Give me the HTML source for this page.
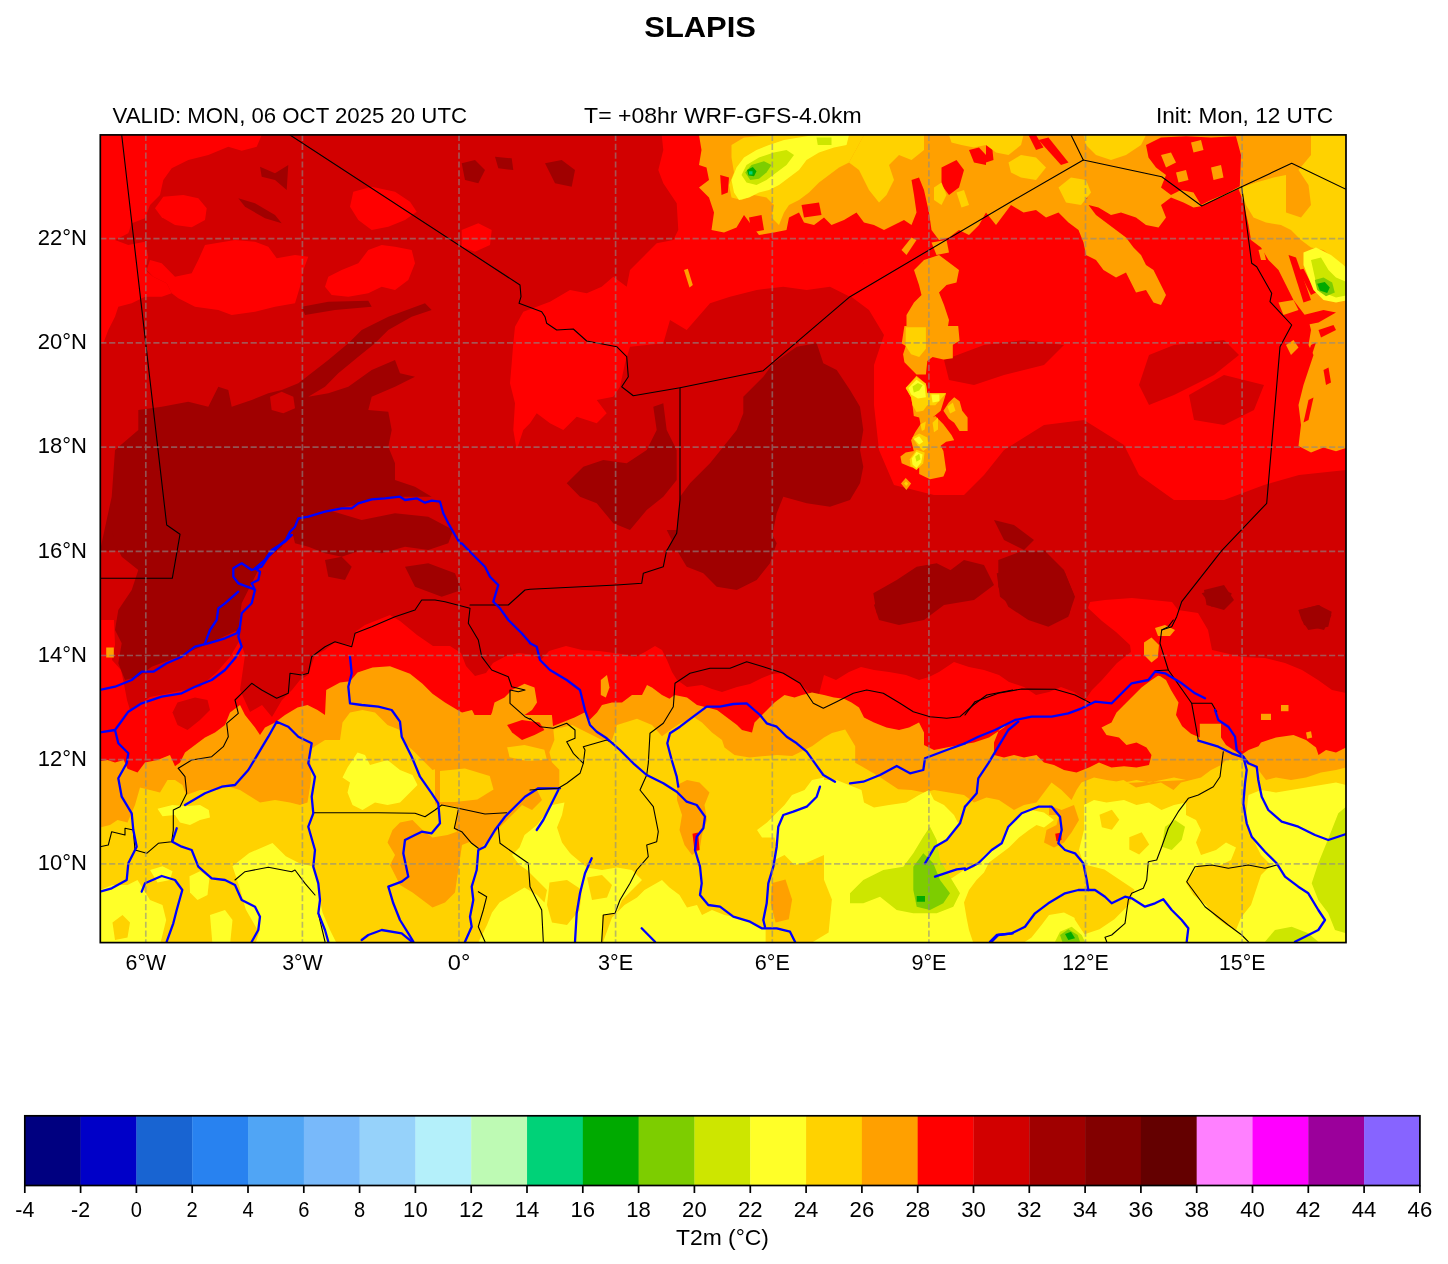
<!DOCTYPE html>
<html><head><meta charset="utf-8"><title>SLAPIS</title>
<style>html,body{margin:0;padding:0;background:#fff}body{width:1448px;height:1264px;overflow:hidden;font-family:"Liberation Sans",sans-serif}svg{display:block;will-change:transform}text{font-family:"Liberation Sans",sans-serif;fill:#000}</style>
</head><body>
<svg width="1448" height="1264" viewBox="0 0 1448 1264">
<rect x="0" y="0" width="1448" height="1264" fill="#fff"/>
<defs><clipPath id="mc"><rect x="100.3" y="134.9" width="1245.7" height="807.7"/></clipPath></defs>
<g clip-path="url(#mc)">
<rect x="100.3" y="134.9" width="1245.7" height="807.7" fill="#d20000"/>
<polygon fill="#ff0000" points="100.0,135.0 261.7,135.0 256.7,146.7 241.7,150.7 228.3,146.7 208.3,155.0 188.3,160.0 171.7,168.3 163.3,180.0 160.0,195.0 150.0,205.0 145.0,218.3 131.7,223.3 128.3,233.3 115.0,240.0 128.3,245.0 145.0,241.7 148.3,256.7 145.0,270.0 153.3,276.7 166.7,283.3 171.7,293.3 161.7,296.7 145.0,296.7 131.7,303.3 118.3,306.7 115.0,316.7 108.3,330.0 103.3,343.3 100.0,343.3"/>
<polygon fill="#ff0000" points="205.0,245.0 235.0,240.0 255.0,241.7 268.3,246.7 276.7,258.3 295.0,255.0 308.3,256.7 303.3,270.0 300.0,286.7 295.0,303.3 275.0,306.7 255.0,311.7 231.7,315.0 218.3,310.0 195.0,306.7 178.3,298.3 171.7,293.3 166.7,283.3 153.3,276.7 146.7,270.0 150.0,260.0 161.7,263.3 175.0,276.7 191.7,273.3 198.3,260.0"/>
<polygon fill="#ff0000" points="163.3,196.7 183.3,195.0 198.3,198.3 206.7,208.3 205.0,220.0 191.7,227.3 175.0,225.0 161.7,217.3 155.0,208.3"/>
<polygon fill="#ff0000" points="353.3,191.7 371.7,186.7 395.0,191.7 410.0,201.7 416.7,211.7 405.0,220.0 388.3,226.7 371.7,230.0 358.3,220.0 350.0,206.7"/>
<polygon fill="#ff0000" points="328.3,276.7 341.7,270.0 358.3,263.3 368.3,250.0 381.7,245.0 395.0,246.7 411.7,250.0 415.0,263.3 408.3,280.0 395.0,290.0 381.7,286.7 368.3,293.3 348.3,296.7 331.7,295.0 325.0,286.7"/>
<polygon fill="#ff0000" points="461.7,230.0 478.3,223.3 491.7,230.0 490.0,245.0 475.0,251.7 461.7,246.7"/>
<polygon fill="#ff0000" points="515.0,326.7 523.3,311.7 550.0,301.7 570.0,290.0 586.7,293.3 601.7,286.7 613.3,276.7 626.7,286.7 630.0,270.0 640.0,260.0 656.7,243.3 673.3,240.0 678.3,230.0 676.7,203.3 663.3,183.3 658.3,170.0 663.3,150.0 661.7,135.0 1012.7,135.0 1012.7,263.3 863.3,263.3 856.7,290.0 850.0,296.7 830.0,286.7 806.7,290.0 783.3,286.7 756.7,290.0 730.0,296.7 710.0,303.3 686.7,330.0 670.0,320.0 663.3,343.3 630.0,346.7 625.0,363.3 620.0,386.7 613.3,396.7 596.7,400.0 606.7,413.3 596.7,423.3 576.7,416.7 563.3,430.0 550.0,423.3 536.7,413.3 530.0,423.3 523.3,430.0 516.7,450.0 513.3,430.0 515.0,403.3 510.0,383.3 511.7,363.3 513.3,343.3"/>
<polygon fill="#ff0000" points="914.0,135.0 1346.5,135.0 1346.5,470.0 1299.0,475.0 1264.0,485.0 1224.0,500.0 1174.0,500.0 1139.0,475.0 1124.0,445.0 1084.0,420.0 1044.0,425.0 1004.0,450.0 984.0,475.0 964.0,495.0 934.0,495.0 894.0,485.0 879.0,450.0 874.0,405.0 874.0,365.0 884.0,335.0 869.0,310.0 849.0,295.0 854.0,275.0 874.0,250.0 899.0,240.0 914.0,240.0"/>
<polygon fill="#ff0000" points="100.0,620.0 114.0,620.0 115.0,645.0 112.0,660.0 121.0,670.0 124.0,684.0 127.0,700.0 130.0,710.0 150.0,697.0 175.0,692.0 200.0,687.0 217.0,672.0 230.0,657.0 240.0,640.0 245.0,655.0 240.0,690.0 250.0,712.0 262.0,705.0 272.0,717.0 282.0,700.0 292.0,690.0 300.0,680.0 308.0,675.0 315.0,655.0 325.0,650.0 335.0,642.0 350.0,645.0 355.0,632.0 365.0,625.0 390.0,615.0 400.0,621.0 417.0,635.0 433.0,646.0 450.0,646.0 461.0,653.0 466.0,666.0 475.0,676.0 486.0,673.0 493.0,663.0 506.0,656.0 519.0,653.0 533.0,655.0 541.0,660.0 549.0,651.0 566.0,646.0 582.0,650.0 599.0,651.0 622.0,654.0 635.0,657.0 645.0,652.0 655.0,646.0 662.0,650.0 667.0,660.0 672.0,672.0 677.0,680.0 687.0,687.0 702.0,685.0 712.0,689.0 722.0,692.0 737.0,687.0 750.0,684.0 762.0,678.0 772.0,674.0 782.0,673.0 797.0,681.0 809.0,692.0 817.0,702.0 824.0,675.0 836.0,680.0 849.0,672.0 861.0,667.0 874.0,670.0 889.0,672.0 906.0,675.0 919.0,680.0 929.0,677.0 939.0,672.0 954.0,662.0 969.0,667.0 984.0,670.0 999.0,675.0 1009.0,682.0 1024.0,687.0 1036.0,695.0 1049.0,692.0 1061.0,687.0 1074.0,692.0 1085.0,700.0 1092.0,690.0 1102.0,680.0 1117.0,663.0 1131.0,652.0 1130.0,645.0 1116.0,632.0 1102.0,621.0 1088.0,608.0 1090.0,602.0 1105.0,600.0 1132.0,598.0 1152.0,600.0 1172.0,602.0 1178.0,610.0 1198.0,613.0 1208.0,630.0 1212.0,650.0 1225.0,653.0 1242.0,657.0 1265.0,658.0 1285.0,663.0 1302.0,670.0 1318.0,680.0 1332.0,690.0 1346.0,693.0 1346.0,800.0 100.0,800.0"/>
<polygon fill="#d20000" points="177.5,702.5 195.0,697.5 207.5,700.0 210.0,710.0 200.0,720.0 187.5,730.0 177.5,725.0 172.5,712.5"/>
<polygon fill="#d20000" points="944.0,360.0 984.0,345.0 1024.0,340.0 1064.0,345.0 1044.0,365.0 1004.0,375.0 974.0,385.0 949.0,380.0"/>
<polygon fill="#d20000" points="1149.0,355.0 1174.0,345.0 1224.0,340.0 1239.0,355.0 1214.0,375.0 1174.0,395.0 1149.0,405.0 1139.0,385.0"/>
<polygon fill="#d20000" points="1189.0,395.0 1224.0,375.0 1264.0,385.0 1254.0,410.0 1224.0,425.0 1194.0,420.0"/>
<polygon fill="#a00000" points="138.3,410.0 161.7,406.7 188.3,401.7 208.3,406.7 218.3,386.7 228.3,390.0 231.7,406.7 251.7,400.0 268.3,393.3 281.7,390.0 298.3,383.3 328.3,360.0 348.3,343.3 361.7,330.0 388.3,316.7 425.0,303.3 431.7,310.0 411.7,316.7 388.3,330.0 375.0,343.3 358.3,356.7 338.3,373.3 325.0,386.7 308.3,396.7 328.3,393.3 348.3,386.7 371.7,370.0 395.0,360.0 400.0,373.3 415.0,376.7 395.0,386.7 371.7,396.7 368.3,410.0 388.3,411.7 391.7,430.0 388.3,446.7 395.0,463.3 395.0,480.0 415.0,486.7 431.7,496.7 401.7,496.7 378.3,498.3 355.0,505.0 328.3,510.0 301.7,516.7 295.0,530.0 281.7,543.3 261.7,550.7 100.0,550.7 111.7,496.7 115.0,450.0 138.3,430.0"/>
<polygon fill="#d20000" points="270.0,396.7 281.7,391.7 293.3,396.7 295.0,408.3 283.3,413.3 271.7,410.0"/>
<polygon fill="#a00000" points="291.7,530.0 281.7,546.7 261.7,563.3 251.7,583.3 241.7,603.3 238.3,630.0 205.0,645.0 178.3,656.7 151.7,666.7 138.3,676.7 125.0,680.0 118.3,663.3 121.7,643.3 115.0,630.0 118.3,610.0 131.7,590.0 138.3,570.0 121.7,556.7 115.0,543.3 111.7,530.0"/>
<polygon fill="#a00000" points="291.7,530.0 301.7,516.7 328.3,510.0 361.7,520.0 395.0,513.3 428.3,516.7 453.3,530.0 448.3,543.3 428.3,550.0 405.0,546.7 381.7,553.3 361.7,550.0 341.7,556.7 325.0,553.3 308.3,546.7 295.0,543.3"/>
<polygon fill="#a00000" points="325.0,560.0 341.7,556.7 351.7,566.7 345.0,580.0 328.3,576.7"/>
<polygon fill="#a00000" points="405.0,566.7 428.3,563.3 455.0,573.3 461.7,590.0 441.7,596.7 415.0,586.7"/>
<polygon fill="#a00000" points="260.0,166.7 275.0,173.3 288.3,165.0 286.7,190.0 275.0,180.0 261.7,176.7"/>
<polygon fill="#a00000" points="238.3,198.3 255.0,203.3 275.0,215.0 281.7,223.3 265.0,218.3 245.0,206.7"/>
<polygon fill="#a00000" points="301.7,306.7 328.3,301.7 368.3,300.7 371.7,306.7 335.0,310.0 305.0,315.0"/>
<polygon fill="#a00000" points="461.7,163.3 475.0,160.0 485.0,170.0 478.3,183.3 465.0,180.0"/>
<polygon fill="#a00000" points="545.0,163.3 561.7,160.0 575.0,170.0 571.7,186.7 555.0,183.3"/>
<polygon fill="#a00000" points="495.0,156.7 511.7,158.3 513.3,170.0 498.3,168.3"/>
<polygon fill="#a00000" points="743.3,396.7 763.3,376.7 773.3,363.3 796.7,346.7 816.7,343.3 823.3,363.3 836.7,370.0 850.0,390.0 860.0,406.7 863.3,430.0 860.0,450.0 863.3,466.7 860.0,483.3 850.0,500.0 830.0,506.7 806.7,503.3 783.3,496.7 776.7,513.3 773.3,530.0 770.0,550.7 666.7,550.7 676.7,530.0 680.0,496.7 690.0,483.3 710.0,463.3 723.3,446.7 736.7,430.0 743.3,413.3"/>
<polygon fill="#a00000" points="666.7,530.0 770.0,530.0 776.7,543.3 770.0,563.3 756.7,580.0 736.7,590.0 716.7,586.7 703.3,573.3 686.7,566.7 676.7,550.0"/>
<polygon fill="#a00000" points="566.7,483.3 583.3,466.7 603.3,460.0 626.7,463.3 646.7,450.0 656.7,430.0 653.3,406.7 663.3,403.3 666.7,430.0 676.7,450.0 676.7,480.0 663.3,496.7 646.7,510.0 630.0,530.0 613.3,523.3 596.7,503.3 580.0,496.7"/>
<polygon fill="#a00000" points="874.0,605.0 894.0,585.0 924.0,570.0 944.0,575.0 964.0,560.0 984.0,565.0 994.0,585.0 974.0,600.0 944.0,605.0 924.0,620.0 899.0,625.0 879.0,620.0"/>
<polygon fill="#a00000" points="999.0,575.0 1019.0,555.0 1044.0,550.0 1064.0,570.0 1074.0,595.0 1069.0,615.0 1044.0,620.0 1019.0,610.0 1004.0,595.0"/>
<polygon fill="#a00000" points="994.0,520.0 1014.0,525.0 1034.0,540.0 1024.0,550.0 1004.0,540.0"/>
<polygon fill="#a00000" points="1204.0,590.0 1224.0,585.0 1234.0,600.0 1224.0,610.0 1206.5,605.0"/>
<polygon fill="#a00000" points="1299.0,610.0 1319.0,605.0 1331.5,615.0 1324.0,630.0 1304.0,625.0"/>
<polygon fill="#a00000" points="1201.7,593.3 1218.3,588.3 1231.7,593.3 1228.3,603.3 1211.7,606.7"/>
<polygon fill="#a00000" points="1298.3,610.0 1318.3,605.0 1331.7,611.7 1328.3,626.7 1308.3,630.0 1301.7,620.0"/>
<polygon fill="#a00000" points="998.3,560.0 1025.0,550.0 1048.3,556.7 1065.0,573.3 1075.0,596.7 1068.3,616.7 1048.3,626.7 1028.3,620.0 1008.3,606.7 998.3,586.7"/>
<polygon fill="#a00000" points="873.3,593.3 896.7,580.0 916.7,566.7 936.7,563.3 956.7,573.3 950.0,586.7 930.0,593.3 910.0,600.0 893.3,613.3 876.7,613.3"/>
<polygon fill="#a00000" points="996.7,573.3 1012.7,570.0 1012.7,606.7 1000.0,596.7"/>
<polygon fill="#ffa000" points="100.0,761.2 107.5,760.0 115.0,762.5 123.8,760.0 127.5,768.8 137.5,772.5 145.0,762.5 157.5,760.0 170.0,755.0 175.0,766.2 180.0,762.5 185.0,752.5 195.0,745.0 205.0,737.5 215.0,732.5 225.0,725.0 230.0,712.5 240.0,705.0 245.0,715.0 255.0,727.5 260.0,735.0 265.0,727.5 275.0,722.5 285.0,715.0 297.5,707.5 307.5,705.0 317.5,710.0 325.0,715.0 326.2,690.0 340.0,682.5 350.0,681.2 357.5,672.5 372.5,667.5 390.0,666.2 410.0,673.8 422.5,683.8 432.5,693.8 445.0,702.5 457.5,710.0 462.0,712.5 462.0,712.5 472.0,710.0 475.8,717.5 487.0,723.8 492.0,712.5 494.5,702.5 504.5,697.5 512.0,690.0 524.5,683.8 534.5,687.5 537.0,702.5 532.0,710.0 524.5,715.0 512.0,720.0 504.5,727.5 512.0,732.5 522.0,740.0 537.0,735.0 544.5,730.0 549.5,727.5 562.0,722.5 574.5,717.5 584.5,712.5 589.5,720.0 597.0,712.5 602.0,705.0 612.0,702.5 622.0,702.5 632.0,695.0 642.0,695.0 647.0,685.0 652.0,687.5 662.0,695.0 669.5,698.8 674.5,695.0 687.0,697.5 697.0,705.0 707.0,707.5 717.0,710.0 727.0,717.5 737.0,725.0 742.0,730.0 752.0,732.5 754.5,722.5 764.5,712.5 774.5,702.5 784.5,695.0 794.5,697.5 802.0,695.0 812.0,692.5 824.0,695.0 824.0,695.0 834.0,697.5 844.0,698.8 851.5,702.5 859.0,707.5 864.0,717.5 874.0,722.5 886.5,727.5 899.0,730.0 909.0,727.5 919.0,722.5 924.0,732.5 924.0,745.0 934.0,750.0 946.5,747.5 959.0,745.0 974.0,742.5 989.0,737.5 996.5,732.5 1004.0,727.5 1009.0,722.5 999.0,730.0 994.0,742.5 994.0,755.0 1004.0,757.5 1014.0,755.0 1024.0,757.5 1036.5,755.0 1044.0,762.5 1054.0,765.0 1064.0,770.0 1076.5,772.5 1089.0,767.5 1099.0,762.5 1111.5,767.5 1124.0,766.2 1136.5,767.5 1149.0,765.0 1151.5,755.0 1146.5,747.5 1136.5,742.5 1126.5,745.0 1119.0,737.5 1106.5,735.0 1101.5,727.5 1111.5,722.5 1116.5,712.5 1124.0,705.0 1131.5,697.5 1141.5,687.5 1151.5,680.0 1159.0,675.0 1158.5,675.0 1166.0,680.0 1171.0,690.0 1178.5,702.5 1176.0,715.0 1182.2,726.2 1191.0,733.8 1199.8,737.5 1199.8,723.8 1221.0,723.8 1221.0,737.5 1226.0,745.0 1233.5,750.0 1241.0,755.0 1248.5,750.0 1258.5,746.2 1261.0,742.5 1276.0,737.5 1293.5,735.0 1306.0,740.0 1316.0,747.5 1318.5,755.0 1326.0,750.0 1336.0,752.5 1346.0,747.5 1346.0,945.0 100.0,945.0"/>
<polygon fill="#ffa000" points="600.8,680.0 607.0,675.0 609.5,687.5 605.8,697.5 600.8,695.0"/>
<polygon fill="#ffa000" points="1144.0,642.5 1151.5,637.5 1159.0,645.0 1157.8,657.5 1151.5,662.5 1144.0,655.0"/>
<polygon fill="#ffa000" points="1155.0,628.0 1165.0,625.0 1175.0,630.0 1170.0,636.0 1158.0,636.0"/>
<polygon fill="#ffa000" points="1261.0,713.8 1271.0,713.8 1271.0,720.0 1261.0,720.0"/>
<polygon fill="#ffa000" points="1281.0,705.0 1288.5,705.0 1288.5,711.2 1281.0,711.2"/>
<polygon fill="#ffa000" points="1306.0,732.5 1311.0,731.2 1312.2,737.5 1307.2,738.8"/>
<polygon fill="#ffa000" points="106.2,647.5 113.8,647.5 113.8,657.5 106.2,657.5"/>
<polygon fill="#ffd200" points="100.0,827.5 110.0,825.0 117.5,820.0 127.5,822.5 135.0,805.0 140.0,787.5 150.0,790.0 160.0,792.5 167.5,780.0 175.0,780.0 182.5,785.0 186.2,795.0 200.0,790.0 210.0,790.0 217.5,790.0 227.5,786.2 240.0,790.0 250.0,796.2 260.0,802.5 275.0,800.0 290.0,802.5 300.0,805.0 307.5,802.5 311.2,780.0 310.0,750.0 315.0,746.2 325.0,740.0 340.0,740.0 342.5,722.5 350.0,712.5 362.5,710.0 375.0,712.5 387.5,725.0 400.0,730.0 403.8,742.5 412.5,750.0 422.5,760.0 432.5,770.0 445.0,766.2 462.0,762.5 462.0,790.0 462.0,760.0 477.0,755.0 492.0,760.0 499.5,750.0 512.0,745.0 527.0,742.5 544.5,740.0 549.5,730.0 562.0,727.5 572.0,725.0 582.0,730.0 592.0,735.0 602.0,740.0 612.0,740.0 617.0,725.0 637.0,718.8 652.0,725.0 662.0,736.2 672.0,728.8 679.5,723.8 694.5,717.5 702.0,722.5 712.0,732.5 722.0,740.0 724.5,747.5 734.5,755.0 749.5,757.5 762.0,756.2 777.0,755.0 792.2,756.0 812.0,746.2 824.0,737.5 824.0,737.5 832.0,733.0 845.2,729.5 855.2,746.2 855.2,762.8 861.5,766.2 878.2,776.0 898.2,789.2 911.5,790.0 924.0,792.5 934.0,790.0 949.0,792.5 964.0,795.0 974.0,802.5 986.5,797.5 999.0,800.0 1014.0,810.0 1024.0,805.0 1036.5,802.5 1044.0,792.5 1051.5,782.5 1061.5,790.0 1071.5,800.0 1076.5,790.0 1081.5,782.5 1094.0,777.5 1106.5,780.0 1124.0,782.5 1136.5,780.0 1149.0,782.5 1161.5,780.0 1174.0,777.5 1186.0,780.0 1086.0,785.0 1098.5,780.0 1111.0,782.5 1123.5,780.0 1136.0,787.5 1148.5,785.0 1161.0,782.5 1173.5,790.0 1181.0,782.5 1191.0,780.0 1201.0,777.5 1211.0,770.0 1221.0,765.0 1226.0,760.0 1241.0,760.0 1248.5,765.0 1258.5,770.0 1266.0,780.0 1276.0,777.5 1291.0,780.0 1306.0,777.5 1321.0,772.5 1336.0,770.0 1346.0,767.5 1346.0,945.0 100.0,945.0"/>
<polygon fill="#ffa000" points="392.5,830.0 400.0,822.5 412.5,820.0 422.5,830.0 432.5,837.5 447.5,835.0 462.0,830.0 462.0,792.5 477.0,790.0 494.5,785.0 512.0,780.0 527.0,775.0 544.5,772.5 549.5,782.5 537.0,790.0 542.0,800.0 532.0,810.0 522.0,805.0 512.0,815.0 504.5,822.5 497.0,830.0 492.0,837.5 482.0,845.0 474.5,840.0 462.0,845.0 455.0,892.5 445.0,902.5 432.5,907.5 422.5,900.0 412.5,892.5 400.0,885.0 395.0,875.0 390.0,865.0 395.0,855.0 387.5,842.5"/>
<polygon fill="#ffa000" points="677.0,785.0 687.0,780.0 699.5,782.5 709.5,792.5 704.5,805.0 707.0,820.0 702.0,835.0 699.5,850.0 692.0,855.0 684.5,845.0 679.5,830.0 682.0,815.0 677.0,800.0"/>
<polygon fill="#ff0000" points="692.5,833.8 698.2,832.5 699.5,850.0 694.5,851.2"/>
<polygon fill="#ffa000" points="772.0,882.5 782.0,880.0 789.5,892.5 794.5,905.0 789.5,922.5 777.0,925.0 772.0,910.0 769.5,895.0"/>
<polygon fill="#ffa000" points="647.0,897.5 659.5,902.5 662.0,917.5 652.0,920.0 645.8,910.0"/>
<polygon fill="#ffa000" points="1049.0,805.0 1061.5,810.0 1074.0,805.0 1079.0,820.0 1071.5,832.5 1064.0,842.5 1054.0,847.5 1044.0,842.5 1046.5,830.0 1056.5,825.0 1059.0,815.0 1049.0,815.0"/>
<polygon fill="#ff0000" points="1055.2,833.8 1061.5,832.5 1061.5,840.0 1056.5,841.2"/>
<polygon fill="#ffff28" points="157.5,808.8 172.5,805.0 185.0,806.2 200.0,805.0 208.8,810.0 210.0,817.5 200.0,820.0 190.0,825.0 180.0,822.5 175.0,815.0 162.5,816.2"/>
<polygon fill="#ffff28" points="357.5,752.5 365.0,755.0 370.0,765.0 387.5,760.0 400.0,770.0 412.5,775.0 417.5,785.0 407.5,795.0 400.0,802.5 387.5,805.0 375.0,802.5 362.5,810.0 352.5,805.0 347.5,792.5 350.0,782.5 342.5,777.5 347.5,767.5 352.5,760.0"/>
<polygon fill="#ffff28" points="100.0,890.0 112.5,885.0 127.5,885.0 137.5,880.0 143.8,890.0 150.0,900.0 162.5,905.0 166.2,920.0 160.0,945.0 100.0,945.0"/>
<polygon fill="#ffd200" points="112.5,922.5 122.5,915.0 130.0,922.5 127.5,937.5 115.0,940.0"/>
<polygon fill="#ffff28" points="232.5,866.2 249.2,853.0 272.5,843.0 285.8,856.2 299.0,863.0 312.2,866.2 317.5,880.0 318.8,895.0 322.5,912.5 330.0,930.0 337.5,945.0 255.0,945.0 259.0,932.5 245.8,909.5 239.2,886.2"/>
<polygon fill="#ffff28" points="189.5,876.2 200.0,871.2 209.5,877.5 207.5,895.0 197.5,900.0 190.0,892.5"/>
<polygon fill="#ffff28" points="210.0,915.0 225.0,910.0 232.5,920.0 230.0,945.0 212.5,945.0"/>
<polygon fill="#ffff28" points="150.0,870.0 162.5,866.2 172.5,871.2 170.0,880.0 157.5,882.5"/>
<polygon fill="#ffff28" points="524.5,835.0 537.0,825.0 544.5,815.0 552.0,805.0 564.5,802.5 562.0,815.0 557.0,827.5 562.0,842.5 569.5,852.5 572.0,855.0 587.0,867.5 602.0,870.0 617.0,867.5 632.0,870.0 642.0,880.0 632.0,890.0 622.0,900.0 617.0,912.5 602.0,915.0 602.0,945.0 477.0,945.0 487.0,925.0 492.0,912.5 499.5,902.5 512.0,895.0 524.5,887.5 537.0,895.0 544.5,902.5 547.0,890.0 537.0,880.0 527.0,870.0 519.5,865.0 512.0,855.0 519.5,847.5"/>
<polygon fill="#ffd200" points="549.5,882.5 567.0,880.0 582.0,890.0 579.5,910.0 567.0,925.0 552.0,922.5 547.0,905.0"/>
<polygon fill="#ffd200" points="587.0,877.5 602.0,875.0 612.0,885.0 607.0,897.5 592.0,900.0"/>
<polygon fill="#ffff28" points="824.0,777.5 812.0,780.0 804.5,790.0 792.0,795.0 784.5,805.0 774.5,815.0 767.0,822.5 757.0,830.0 762.0,837.5 774.5,837.5 777.0,847.5 774.5,860.0 784.5,855.0 794.5,865.0 807.0,862.5 824.0,855.0"/>
<polygon fill="#ffff28" points="624.5,905.0 637.0,897.5 644.5,890.0 662.0,880.0 669.5,887.5 679.5,895.0 687.0,907.5 697.0,905.0 702.0,915.0 712.0,910.0 724.5,915.0 737.0,917.5 749.5,922.5 762.0,927.5 769.5,930.0 774.5,927.5 794.5,925.0 799.5,912.5 797.0,900.0 807.0,892.5 824.0,890.0 824.0,945.0 602.0,945.0 612.0,917.5"/>
<polygon fill="#ffff28" points="824.0,780.0 836.5,780.0 849.0,785.0 861.5,790.0 864.0,802.5 874.0,807.5 889.0,805.0 906.5,802.5 919.0,795.0 929.0,790.0 934.0,800.0 944.0,805.0 954.0,815.0 959.0,825.0 949.0,837.5 941.5,842.5 931.5,850.0 924.0,857.5 914.0,862.5 929.0,870.0 939.0,877.5 949.0,880.0 964.0,870.0 974.0,867.5 984.0,855.0 994.0,847.5 1004.0,840.0 1009.0,827.5 1019.0,815.0 1031.5,810.0 1044.0,812.5 1054.0,820.0 1044.0,827.5 1036.5,825.0 1029.0,830.0 1019.0,837.5 1009.0,847.5 999.0,855.0 989.0,862.5 984.0,872.5 976.5,880.0 969.0,890.0 964.0,902.5 966.5,917.5 969.0,930.0 974.0,945.0 824.0,945.0"/>
<polygon fill="#ffff28" points="1084.0,805.0 1094.0,800.0 1106.5,802.5 1124.0,800.0 1136.5,805.0 1149.0,802.5 1161.5,810.0 1174.0,805.0 1186.0,802.5 1186.0,945.0 999.0,945.0 1024.0,942.5 1031.5,937.5 1041.5,925.0 1049.0,915.0 1064.0,912.5 1074.0,917.5 1086.5,925.0 1099.0,930.0 1106.5,912.5 1099.0,895.0 1089.0,880.0 1084.0,865.0 1079.0,850.0 1084.0,830.0"/>
<polygon fill="#ffff28" points="1086.0,808.8 1101.0,805.0 1116.0,806.2 1131.0,810.0 1146.0,815.0 1161.0,820.0 1173.5,812.5 1178.5,810.0 1186.0,815.0 1196.0,820.0 1201.0,830.0 1196.0,842.5 1201.0,855.0 1216.0,850.0 1226.0,842.5 1236.0,847.5 1231.0,860.0 1221.0,865.0 1198.5,865.0 1186.0,882.5 1193.5,895.0 1206.0,905.0 1216.0,917.5 1226.0,925.0 1236.0,930.0 1246.0,945.0 1086.0,945.0"/>
<polygon fill="#ffff28" points="1248.5,795.0 1261.0,790.0 1276.0,792.5 1291.0,790.0 1306.0,787.5 1321.0,785.0 1336.0,782.5 1346.0,785.0 1346.0,945.0 1246.0,945.0 1236.0,930.0 1241.0,917.5 1251.0,905.0 1256.0,890.0 1261.0,875.0 1271.0,865.0 1261.0,855.0 1256.0,845.0 1248.5,830.0 1246.0,815.0"/>
<polygon fill="#ffa000" points="699.0,135.0 701.5,150.0 699.0,165.0 706.5,167.5 709.0,180.0 699.0,187.5 709.0,197.5 714.0,212.5 711.5,230.0 724.0,232.5 736.5,227.5 744.0,215.0 751.5,225.0 759.0,235.0 774.0,232.5 786.5,230.0 789.0,217.5 799.0,212.5 804.0,222.5 814.0,225.0 824.0,217.5 831.5,225.0 844.0,220.0 856.5,212.5 864.0,222.5 874.0,225.0 884.0,230.0 894.0,225.0 904.0,220.0 911.5,225.0 916.5,212.5 914.0,195.0 911.5,180.0 919.0,177.5 924.0,190.0 929.0,212.5 931.5,230.0 939.0,240.0 949.0,237.5 959.0,230.0 969.0,235.0 979.0,225.0 986.0,212.5 996.0,225.0 1003.5,215.0 1011.0,205.0 1023.5,212.5 1036.0,210.0 1046.0,217.5 1058.5,212.5 1068.5,222.5 1078.5,230.0 1083.5,242.5 1086.0,255.0 1096.0,260.0 1103.5,270.0 1116.0,277.5 1126.0,272.5 1131.0,282.5 1136.0,292.5 1146.0,290.0 1153.5,302.5 1161.0,305.0 1166.0,295.0 1158.5,280.0 1153.5,270.0 1146.0,265.0 1141.0,255.0 1133.5,247.5 1126.0,237.5 1116.0,230.0 1106.0,222.5 1096.0,215.0 1088.5,205.0 1098.5,207.5 1111.0,215.0 1121.0,212.5 1136.0,217.5 1146.0,225.0 1158.5,227.5 1166.0,217.5 1161.0,205.0 1171.0,197.5 1183.5,202.5 1193.5,207.5 1201.0,206.2 1211.0,201.2 1226.0,195.0 1238.5,188.8 1243.5,202.5 1248.5,225.0 1251.0,240.0 1261.0,247.5 1268.5,260.0 1278.5,270.0 1286.0,285.0 1293.5,300.0 1301.0,310.0 1308.5,320.0 1311.0,330.0 1308.5,345.0 1313.5,355.0 1308.5,370.0 1303.5,385.0 1298.5,405.0 1301.0,425.0 1298.5,446.0 1311.0,452.5 1323.5,447.5 1336.0,451.2 1348.0,447.5 1348.0,135.0 699.0,135.0"/>
<polygon fill="#ffa000" points="1315.0,440.0 1331.7,446.7 1346.0,446.7 1346.0,396.7 1325.0,396.7"/>
<polygon fill="#ff0000" points="720.2,175.0 729.0,177.5 727.8,192.5 721.5,195.0"/>
<polygon fill="#ff0000" points="749.0,217.5 761.5,215.0 764.0,230.0 751.5,232.5"/>
<polygon fill="#ff0000" points="779.0,192.5 784.0,190.0 786.5,202.5 780.2,202.5"/>
<polygon fill="#ff0000" points="801.5,205.0 819.0,202.5 821.5,215.0 804.0,217.5"/>
<polygon fill="#ff0000" points="941.5,167.5 956.5,160.0 964.0,170.0 959.0,187.5 949.0,195.0 941.5,185.0"/>
<polygon fill="#ff0000" points="969.0,150.0 979.0,147.5 986.0,155.0 986.0,165.0 974.0,162.5"/>
<polygon fill="#ff0000" points="1146.0,145.0 1161.0,137.5 1186.0,136.2 1211.0,137.5 1236.0,136.2 1241.0,155.0 1239.8,186.2 1226.0,193.8 1211.0,200.0 1201.0,205.0 1193.5,192.5 1181.0,190.0 1171.0,195.0 1161.0,187.5 1166.0,175.0 1156.0,167.5 1148.5,157.5"/>
<polygon fill="#ffa000" points="1161.0,155.0 1171.0,152.5 1176.0,162.5 1166.0,167.5"/>
<polygon fill="#ffa000" points="1191.0,142.5 1201.0,140.0 1203.5,150.0 1193.5,152.5"/>
<polygon fill="#ffa000" points="1211.0,167.5 1221.0,165.0 1223.5,177.5 1213.5,180.0"/>
<polygon fill="#ffa000" points="1176.0,172.5 1186.0,170.0 1188.5,180.0 1178.5,182.5"/>
<polygon fill="#ff0000" points="1038.5,140.0 1048.5,137.5 1068.5,162.5 1061.0,165.0"/>
<polygon fill="#ff0000" points="1028.5,135.0 1036.0,135.0 1043.5,147.5 1036.0,150.0"/>
<polygon fill="#ff0000" points="986.0,145.0 992.2,147.5 993.5,160.0 986.0,162.5"/>
<polygon fill="#ff0000" points="1082.2,185.0 1087.2,185.0 1087.2,198.8 1082.2,198.8"/>
<polygon fill="#ff0000" points="1288.5,255.0 1296.0,257.5 1311.0,300.0 1303.5,302.5"/>
<polygon fill="#ff0000" points="1298.5,270.0 1303.5,268.8 1316.0,292.5 1311.0,295.0"/>
<polygon fill="#ff0000" points="1303.5,315.0 1323.5,310.0 1336.0,312.5 1318.5,322.5 1306.0,325.0"/>
<polygon fill="#ff0000" points="1318.5,330.0 1333.5,325.0 1336.0,330.0 1321.0,337.5"/>
<polygon fill="#ff0000" points="1311.0,345.0 1316.0,342.5 1308.5,365.0 1303.5,367.5"/>
<polygon fill="#ff0000" points="1323.5,370.0 1328.5,367.5 1331.0,382.5 1326.0,385.0"/>
<polygon fill="#ff0000" points="1308.5,400.0 1313.5,397.5 1308.5,420.0 1303.5,422.5"/>
<polygon fill="#ffa000" points="1258.5,250.0 1263.5,248.8 1266.0,260.0 1261.0,260.0"/>
<polygon fill="#ffa000" points="1278.5,302.5 1293.5,300.0 1298.5,310.0 1283.5,315.0"/>
<polygon fill="#ffa000" points="1286.0,345.0 1293.5,340.0 1298.5,347.5 1291.0,355.0"/>
<polygon fill="#ffd200" points="731.5,145.0 744.0,137.5 771.5,135.0 864.0,135.0 849.0,162.5 839.0,167.5 829.0,175.0 819.0,182.5 809.0,192.5 799.0,200.0 789.0,205.0 784.0,212.5 779.0,225.0 771.5,217.5 774.0,205.0 766.5,197.5 754.0,195.0 741.5,200.0 731.5,197.5 729.0,185.0 734.0,172.5 731.5,157.5"/>
<polygon fill="#ffd200" points="849.0,162.5 864.0,135.0 924.0,135.0 924.0,150.0 911.5,160.0 899.0,155.0 889.0,165.0 894.0,180.0 886.5,195.0 879.0,202.5 869.0,190.0 859.0,170.0"/>
<polygon fill="#ffd200" points="934.0,187.5 941.5,182.5 946.5,195.0 941.5,205.0 934.0,200.0"/>
<polygon fill="#ffd200" points="956.5,192.5 964.0,190.0 969.0,205.0 961.5,207.5"/>
<polygon fill="#ffd200" points="949.0,135.0 986.0,135.0 986.0,145.0 974.0,147.5 961.5,145.0 951.5,142.5"/>
<polygon fill="#ffd200" points="986.0,135.0 1023.5,135.0 1021.0,145.0 1008.5,155.0 996.0,152.5 986.0,145.0"/>
<polygon fill="#ffd200" points="1008.5,162.5 1021.0,155.0 1036.0,157.5 1046.0,167.5 1036.0,180.0 1021.0,177.5 1011.0,172.5"/>
<polygon fill="#ffd200" points="1083.5,135.0 1146.0,135.0 1141.0,145.0 1126.0,155.0 1111.0,160.0 1096.0,155.0 1086.0,145.0"/>
<polygon fill="#ffd200" points="1058.5,187.5 1071.0,177.5 1086.0,180.0 1091.0,192.5 1081.0,205.0 1066.0,202.5"/>
<polygon fill="#ffd200" points="1241.0,187.5 1256.0,182.5 1273.5,177.5 1286.0,175.0 1286.0,212.5 1301.0,217.5 1311.0,205.0 1308.5,185.0 1298.5,170.0 1311.0,155.0 1311.0,135.0 1348.0,135.0 1348.0,270.0 1336.0,260.0 1323.5,250.0 1311.0,247.5 1301.0,240.0 1291.0,230.0 1281.0,225.0 1266.0,222.5 1253.5,217.5 1246.0,205.0"/>
<polygon fill="#ffff28" points="734.0,192.5 731.5,180.0 736.5,167.5 744.0,157.5 756.5,150.0 769.0,145.0 784.0,140.0 799.0,137.5 814.0,135.0 849.0,135.0 846.5,145.0 834.0,147.5 819.0,152.5 806.5,160.0 799.0,170.0 789.0,177.5 779.0,185.0 769.0,190.0 759.0,192.5 749.0,197.5 739.0,200.0"/>
<polygon fill="#cde600" points="741.5,175.0 746.5,165.0 759.0,157.5 774.0,152.5 786.5,150.0 794.0,155.0 786.5,165.0 776.5,172.5 766.5,180.0 756.5,185.0 746.5,182.5"/>
<polygon fill="#cde600" points="816.5,137.5 831.5,137.5 831.5,145.0 817.8,145.0"/>
<polygon fill="#7dcd00" points="745.2,172.5 751.5,165.0 764.0,161.2 771.5,165.0 766.5,172.5 759.0,178.8 750.2,180.0"/>
<polygon fill="#00aa00" points="747.0,170.0 752.8,167.0 756.5,171.2 754.0,176.2 748.5,175.5"/>
<polygon fill="#00d278" points="749.0,171.2 752.5,171.2 752.5,174.5 749.0,174.5"/>
<polygon fill="#ffff28" points="1303.5,252.5 1316.0,247.5 1331.0,255.0 1343.5,265.0 1348.0,270.0 1348.0,300.0 1336.0,302.5 1323.5,300.0 1313.5,290.0 1308.5,277.5 1303.5,265.0"/>
<polygon fill="#cde600" points="1311.0,260.0 1321.0,257.5 1328.5,270.0 1336.0,277.5 1348.0,282.5 1348.0,295.0 1336.0,297.5 1323.5,292.5 1316.0,282.5"/>
<polygon fill="#7dcd00" points="1314.8,280.0 1323.5,277.5 1332.2,282.5 1334.8,292.5 1326.0,296.2 1317.2,290.0"/>
<polygon fill="#00aa00" points="1317.2,283.8 1324.8,282.0 1329.8,287.5 1327.2,293.0 1319.8,290.5"/>
<polygon fill="#ffa000" points="914.0,270.0 924.0,260.0 939.0,255.0 949.0,262.5 959.0,270.0 956.5,282.5 946.5,285.0 939.0,292.5 944.0,305.0 949.0,320.0 946.5,335.0 906.5,335.0 906.5,315.0 914.0,302.5 921.5,295.0 919.0,285.0"/>
<polygon fill="#ffa000" points="901.5,250.0 911.5,237.5 916.5,240.0 906.5,255.0"/>
<polygon fill="#ffa000" points="931.5,242.5 946.5,240.0 949.0,252.5 936.5,255.0"/>
<polygon fill="#ffa000" points="684.0,270.0 687.8,268.8 692.8,285.0 689.5,287.5"/>
<polygon fill="#ffa000" points="904.4,326.0 958.2,326.0 959.6,340.8 952.8,344.8 952.8,358.3 943.4,359.6 932.6,356.9 927.3,360.9 925.9,374.4 916.5,374.4 904.4,362.3 903.1,354.2 905.7,346.1 901.7,343.5"/>
<polygon fill="#ffd200" points="905.7,327.3 925.9,327.3 925.9,348.8 919.2,356.9 911.1,354.2 905.7,346.1"/>
<polygon fill="#ffa000" points="905.7,387.9 916.5,375.7 925.9,383.8 927.3,393.2 946.1,393.2 940.7,410.7 932.6,417.4 935.3,416.1 943.4,424.2 951.5,434.9 954.2,440.3 946.1,441.7 940.7,445.7 943.4,451.1 946.1,469.9 943.4,476.6 930.0,479.3 919.2,474.0 919.2,467.2 911.1,467.2 901.7,463.2 900.4,456.5 905.7,452.4 913.8,451.1 911.1,440.3 915.2,432.2 920.5,424.2 919.2,417.4 913.8,416.1 912.5,405.3 911.1,397.3"/>
<polygon fill="#ffa000" points="943.4,410.7 948.8,402.6 954.2,397.3 959.6,401.3 962.2,410.7 967.6,417.4 967.6,430.9 959.6,430.9 954.2,422.8 948.8,418.8"/>
<polygon fill="#ffd200" points="905.7,387.9 916.5,377.1 925.9,383.8 927.3,393.2 940.7,393.2 946.1,393.2 935.3,405.3 927.3,405.3 923.2,410.7 916.5,412.1 912.5,405.3 911.1,397.3"/>
<polygon fill="#ffff28" points="908.4,387.9 916.5,379.8 924.6,385.2 925.9,397.3 917.9,398.6 911.1,394.6"/>
<polygon fill="#ffff28" points="931.3,394.6 939.4,394.6 939.4,401.3 932.6,402.6"/>
<polygon fill="#cde600" points="912.5,386.5 917.9,383.1 922.6,385.2 919.2,390.5 913.8,392.6"/>
<polygon fill="#ffd200" points="947.4,406.7 952.8,402.6 955.5,410.7 950.1,413.4"/>
<polygon fill="#ffd200" points="920.5,424.2 925.9,421.5 924.6,429.6 921.9,430.9"/>
<polygon fill="#ffd200" points="932.6,422.8 938.0,417.4 938.0,429.6 934.0,432.2"/>
<polygon fill="#ffd200" points="912.5,437.6 919.2,433.6 927.3,437.6 928.6,447.0 923.2,451.1 917.9,445.7"/>
<polygon fill="#ffff28" points="913.8,439.0 919.2,436.3 923.2,441.7 919.2,444.4"/>
<polygon fill="#ffd200" points="909.8,459.2 916.5,449.7 924.6,452.4 923.2,463.2 916.5,469.9 910.5,465.9"/>
<polygon fill="#ffff28" points="911.8,458.5 916.5,451.8 922.6,454.4 921.2,462.5 916.5,467.9 912.5,464.5"/>
<polygon fill="#cde600" points="915.2,456.5 919.2,453.8 920.5,459.2 916.5,461.8"/>
<polygon fill="#ffa000" points="901.0,483.4 905.7,478.0 911.1,483.4 906.4,490.1"/>
<polygon fill="#ffd200" points="904.1,483.4 906.0,481.4 908.2,483.4 906.3,486.1"/>
<polygon fill="#ffd200" points="1084.5,864.5 1104.4,869.5 1119.3,879.5 1134.3,889.4 1129.3,904.3 1114.4,919.2 1099.5,929.2 1084.5,934.2 1074.6,919.2 1077.1,884.4"/>
<polygon fill="#ffd200" points="1099.5,814.8 1111.9,809.8 1119.3,819.8 1111.9,829.7 1101.9,827.2"/>
<polygon fill="#ffd200" points="1129.3,837.2 1141.7,832.2 1149.2,844.6 1139.2,854.6 1129.3,849.6"/>
<polygon fill="#ffd200" points="765.6,866.3 818.6,866.3 831.9,899.4 828.6,932.6 812.0,942.5 765.6,942.5"/>
<polygon fill="#ffa000" points="772.2,882.9 785.5,879.5 792.1,899.4 788.8,919.3 775.6,922.6 770.6,902.8"/>
<polygon fill="#ffa000" points="435.0,715.0 551.9,715.0 554.4,739.9 549.4,752.3 551.9,762.3 559.3,769.7 559.3,789.6 534.5,789.6 522.0,797.1 507.1,812.0 499.7,826.9 479.8,849.3 464.9,839.3 454.9,829.4 457.4,807.0 440.0,804.5 435.0,804.5"/>
<polygon fill="#ffd200" points="440.0,771.0 464.9,768.5 489.7,775.9 493.5,789.6 477.3,799.6 454.9,802.0 440.0,802.0"/>
<polygon fill="#ffd200" points="507.1,747.3 524.5,744.9 544.4,749.8 546.9,759.8 527.0,761.0 509.6,757.3"/>
<polygon fill="#ff0000" points="507.1,725.0 522.0,720.0 539.5,722.5 544.4,729.9 534.5,734.9 522.0,739.9 512.1,732.4"/>
<polygon fill="#cde600" points="850.0,893.3 863.3,880.0 883.3,870.0 903.3,866.7 913.3,853.3 923.3,836.7 930.0,826.7 936.7,840.0 940.0,860.0 950.0,876.7 960.0,893.3 953.3,906.7 936.7,913.3 913.3,913.3 896.7,910.0 880.0,896.7 863.3,903.3 850.0,903.3"/>
<polygon fill="#7dcd00" points="913.3,866.7 923.3,853.3 933.3,863.3 940.0,880.0 950.0,893.3 943.3,903.3 930.0,910.0 916.7,906.7 913.3,890.0"/>
<polygon fill="#00aa00" points="916.7,896.0 925.0,896.0 925.0,901.7 916.7,901.7"/>
<polygon fill="#cde600" points="1346.0,806.7 1338.3,813.3 1331.7,830.0 1325.0,846.7 1318.3,863.3 1311.7,883.3 1318.3,900.0 1328.3,913.3 1335.0,930.0 1346.0,933.3"/>
<polygon fill="#cde600" points="1265.0,941.7 1275.0,930.0 1291.7,926.7 1308.3,933.3 1318.3,941.7"/>
<polygon fill="#cde600" points="1165.0,826.7 1175.0,820.0 1185.0,826.7 1181.7,840.0 1171.7,850.0 1161.7,846.7"/>
<polygon fill="#cde600" points="1055.0,941.7 1060.0,931.7 1071.7,926.7 1081.7,935.0 1085.0,941.7"/>
<polygon fill="#7dcd00" points="1060.0,935.0 1068.3,929.3 1077.7,935.0 1080.0,941.7 1062.3,941.7"/>
<polygon fill="#00aa00" points="1065.0,934.0 1071.0,931.7 1075.0,938.3 1068.3,940.0"/>
<polyline fill="none" stroke="#000" stroke-width="1.1" stroke-linejoin="round" stroke-linecap="round"  points="121.7,135.0 166.7,525.0 180.0,534.3 172.3,578.3 100.0,578.3"/>
<polyline fill="none" stroke="#000" stroke-width="1.1" stroke-linejoin="round" stroke-linecap="round"  points="290.0,135.0 520.0,285.0 521.0,296.7 519.0,303.3 528.3,306.7 541.7,311.7 545.0,316.7 546.7,323.3 556.7,330.0 573.3,329.0 586.7,341.0 616.7,346.7 626.7,356.7 628.3,376.7 621.7,386.7 633.3,395.7 680.0,387.7 763.3,370.7 850.0,296.7 1012.7,200.7 1083.3,160.0 1161.7,176.7 1201.7,206.0 1241.7,186.7 1291.7,163.3 1346.0,189.3"/>
<polyline fill="none" stroke="#000" stroke-width="1.1" stroke-linejoin="round" stroke-linecap="round"  points="1071.0,135.0 1083.3,160.0"/>
<polyline fill="none" stroke="#000" stroke-width="1.1" stroke-linejoin="round" stroke-linecap="round"  points="1241.7,186.7 1251.7,263.3 1256.7,266.7 1271.7,293.3 1270.0,301.7 1291.7,325.0 1280.0,346.7 1266.7,503.3 1221.7,550.7 1211.7,563.3 1181.7,601.7 1176.7,616.7 1171.7,626.7 1161.7,630.0 1160.0,643.3 1168.3,670.0 1191.7,703.3 1198.3,740.0"/>
<polyline fill="none" stroke="#000" stroke-width="1.1" stroke-linejoin="round" stroke-linecap="round"  points="1161.7,630.0 1168.3,626.7 1173.3,620.0"/>
<polyline fill="none" stroke="#000" stroke-width="1.1" stroke-linejoin="round" stroke-linecap="round"  points="1168.3,670.0 1155.0,670.7"/>
<polyline fill="none" stroke="#000" stroke-width="1.1" stroke-linejoin="round" stroke-linecap="round"  points="1191.7,703.3 1211.7,703.3 1216.7,711.7"/>
<polyline fill="none" stroke="#000" stroke-width="1.1" stroke-linejoin="round" stroke-linecap="round"  points="1223.3,751.7 1221.7,763.3 1220.0,776.7 1213.3,786.7 1198.3,795.0 1188.3,798.3 1178.3,811.7 1168.3,828.3 1161.7,846.7 1156.7,860.0 1148.3,861.7 1146.7,880.0 1143.3,888.3 1131.7,893.3 1128.3,900.0 1125.0,923.3 1111.7,935.0 1105.0,937.3 1106.7,941.7"/>
<polyline fill="none" stroke="#000" stroke-width="1.1" stroke-linejoin="round" stroke-linecap="round"  points="1276.7,865.0 1265.0,868.3 1248.3,865.0 1228.3,868.3 1211.7,865.0 1195.0,866.7 1186.7,881.7 1205.0,906.7 1228.3,925.0 1241.7,935.0 1248.3,941.7"/>
<polyline fill="none" stroke="#000" stroke-width="1.1" stroke-linejoin="round" stroke-linecap="round"  points="965.0,715.0 975.0,701.7 998.3,693.3 1021.7,689.0 1055.0,689.3 1075.0,695.0 1090.0,702.7"/>
<polyline fill="none" stroke="#000" stroke-width="1.1" stroke-linejoin="round" stroke-linecap="round"  points="680.0,387.7 680.0,500.0 676.7,533.3 666.7,550.7 666.7,550.0 663.3,566.7 643.3,573.3 641.7,583.3 616.7,585.0 530.0,589.3 525.0,590.0 508.3,605.0 470.0,605.0"/>
<polyline fill="none" stroke="#000" stroke-width="1.1" stroke-linejoin="round" stroke-linecap="round"  points="178.3,768.3 191.7,760.0 211.7,756.7 223.3,746.7 228.3,736.7 226.7,723.3 238.3,713.3 235.0,700.0 241.7,693.3 251.7,683.3 261.7,690.0 276.7,698.3 288.3,693.3 290.0,673.3 301.7,675.0 308.3,673.3 311.7,656.7 325.0,646.7 335.0,641.7 351.7,646.7 355.0,633.3 371.7,626.7 395.0,616.7 415.0,610.0 421.7,600.0 435.0,600.0 445.0,601.7 470.0,608.3 468.3,623.3 478.3,640.0 481.7,656.7 491.7,670.0 508.3,676.7 511.7,686.7 525.0,690.0 518.3,691.7 510.0,690.0 510.0,703.3 525.0,716.7 530.0,719.3"/>
<polyline fill="none" stroke="#000" stroke-width="1.1" stroke-linejoin="round" stroke-linecap="round"  points="178.3,768.3 185.0,776.7 186.7,793.3 180.0,806.7 173.3,810.0 173.3,830.0 171.7,841.7 158.3,843.3 146.7,853.3 135.0,850.0 133.3,830.0 125.0,828.3 125.0,835.0 111.7,831.7 108.3,845.0 100.0,846.7"/>
<polyline fill="none" stroke="#000" stroke-width="1.1" stroke-linejoin="round" stroke-linecap="round"  points="235.0,880.0 245.0,871.7 268.3,867.3 291.7,871.7 295.0,870.0 305.0,883.3 315.0,895.0"/>
<polyline fill="none" stroke="#000" stroke-width="1.1" stroke-linejoin="round" stroke-linecap="round"  points="313.3,812.7 378.3,812.7 415.0,813.3 425.0,816.7 435.0,810.0 441.7,805.0 458.3,808.3 485.0,814.0 506.7,812.7"/>
<polyline fill="none" stroke="#000" stroke-width="1.1" stroke-linejoin="round" stroke-linecap="round"  points="458.3,810.0 454.3,828.3 461.7,831.7 471.7,843.3 478.3,848.3"/>
<polyline fill="none" stroke="#000" stroke-width="1.1" stroke-linejoin="round" stroke-linecap="round"  points="478.3,891.7 486.7,896.7 483.3,910.0 478.3,926.7 485.0,941.7"/>
<polyline fill="none" stroke="#000" stroke-width="1.1" stroke-linejoin="round" stroke-linecap="round"  points="498.3,826.7 500.0,843.3 528.3,863.3 530.0,886.7 541.7,910.0 543.3,941.7"/>
<polyline fill="none" stroke="#000" stroke-width="1.1" stroke-linejoin="round" stroke-linecap="round"  points="318.3,913.3 325.0,941.7"/>
<polyline fill="none" stroke="#0000ff" stroke-width="2.3" stroke-linejoin="round" stroke-linecap="round"  points="100.0,690.0 115.0,686.7 131.7,680.0 141.7,671.7 153.3,671.7 166.7,663.3 181.7,656.7 195.0,646.7 208.3,643.3 225.0,638.3 236.7,633.3 240.0,626.7 241.7,613.3 251.7,603.3 255.0,590.0 251.7,583.3 258.3,580.0 260.0,571.7 255.0,568.3 265.0,560.0 271.7,550.0 285.0,541.7 291.7,535.0 291.7,535.0 286.7,538.3 290.0,531.7 295.0,526.7 298.3,518.3 308.3,516.7 325.0,511.7 341.7,508.3 351.7,508.3 358.3,503.3 371.7,499.3 385.0,498.3 400.0,496.7 405.0,500.0 416.7,498.3 425.0,502.7 431.7,500.7 440.0,501.7 443.3,513.3 448.3,523.3 455.0,535.0 460.0,543.3 461.7,543.3 475.0,556.7 485.0,566.7 490.0,576.7 498.3,585.0 493.3,601.7 500.0,608.3 508.3,620.0 521.7,633.3 530.0,642.7"/>
<polyline fill="none" stroke="#0000ff" stroke-width="2.3" stroke-linejoin="round" stroke-linecap="round"  points="291.7,535.0 281.7,543.3 268.3,556.7 261.7,566.7 251.7,570.0 241.7,563.3 233.3,568.3 233.3,576.7 238.3,583.3 251.7,588.3 255.0,590.0"/>
<polyline fill="none" stroke="#0000ff" stroke-width="2.3" stroke-linejoin="round" stroke-linecap="round"  points="238.3,591.7 225.0,603.3 218.3,608.3 216.7,620.0 210.0,630.0 205.0,643.3"/>
<polyline fill="none" stroke="#0000ff" stroke-width="2.3" stroke-linejoin="round" stroke-linecap="round"  points="100.0,732.3 115.0,730.0 120.0,723.3 128.3,711.7 141.7,703.3 161.7,696.7 181.7,693.3 195.0,686.7 211.7,680.0 225.0,670.0 235.0,658.3 241.7,646.7 238.3,636.7 240.0,628.3"/>
<polyline fill="none" stroke="#0000ff" stroke-width="2.3" stroke-linejoin="round" stroke-linecap="round"  points="115.0,730.0 118.3,743.3 128.3,753.3 126.7,763.3 118.3,778.3 121.7,796.7 131.7,813.3 133.3,830.0 136.7,846.7 128.3,863.3 126.7,880.0 111.7,888.3 100.0,891.7"/>
<polyline fill="none" stroke="#0000ff" stroke-width="2.3" stroke-linejoin="round" stroke-linecap="round"  points="141.7,891.7 145.0,883.3 161.7,876.0 175.0,880.0 182.3,890.0 176.7,910.0 173.3,923.3 166.7,941.7"/>
<polyline fill="none" stroke="#0000ff" stroke-width="2.3" stroke-linejoin="round" stroke-linecap="round"  points="176.7,828.3 172.3,841.7 181.7,846.7 191.7,850.0 198.3,866.7 211.7,878.3 225.0,880.0 235.0,885.0 241.7,900.0 255.0,906.7 260.0,916.7 258.3,930.0 251.7,941.7"/>
<polyline fill="none" stroke="#0000ff" stroke-width="2.3" stroke-linejoin="round" stroke-linecap="round"  points="185.0,805.0 205.0,793.3 221.7,786.7 235.0,785.0 248.3,770.0 258.3,753.3 268.3,736.7 276.7,721.7 288.3,726.7 298.3,736.7 311.7,743.3 308.3,763.3 315.0,776.7 311.7,796.7 313.3,813.3 308.3,826.7 315.0,850.0 313.3,866.7 318.3,883.3 320.0,900.0 318.3,913.3 325.0,930.0 328.3,941.7"/>
<polyline fill="none" stroke="#0000ff" stroke-width="2.3" stroke-linejoin="round" stroke-linecap="round"  points="350.0,656.7 351.7,673.3 348.3,686.7 350.0,703.3 361.7,705.0 378.3,706.7 391.7,710.0 400.0,721.7 401.7,736.7 411.7,756.7 420.0,776.7 431.7,793.3 438.3,803.3 440.0,823.3 431.7,833.3 421.7,831.7 415.0,835.0 405.0,840.0 403.3,853.3 408.3,876.7 401.7,881.7 388.3,886.7 393.3,903.3 400.0,920.0 408.3,933.3 413.3,941.7"/>
<polyline fill="none" stroke="#0000ff" stroke-width="2.3" stroke-linejoin="round" stroke-linecap="round"  points="361.7,940.0 368.3,935.0 381.7,930.0 401.7,933.3 411.7,941.7"/>
<polyline fill="none" stroke="#0000ff" stroke-width="2.3" stroke-linejoin="round" stroke-linecap="round"  points="560.0,788.3 538.3,788.3 525.0,796.7 511.7,810.0 505.0,816.7 495.0,830.0 485.0,846.7 478.3,850.0 476.7,870.0 471.7,886.7 473.3,900.0 470.0,916.7 471.7,926.7 465.0,941.7"/>
<polyline fill="none" stroke="#0000ff" stroke-width="2.3" stroke-linejoin="round" stroke-linecap="round"  points="558.3,790.0 551.7,803.3 543.3,820.0 536.7,830.0"/>
<polyline fill="none" stroke="#000" stroke-width="1.1" stroke-linejoin="round" stroke-linecap="round"  points="530.0,718.3 540.0,726.7 553.3,728.3 566.7,723.3 575.0,730.0 575.0,738.3 566.7,741.7 573.3,753.3 583.3,763.3 580.0,773.3 566.7,783.3 558.3,788.3 530.0,790.0"/>
<polyline fill="none" stroke="#000" stroke-width="1.1" stroke-linejoin="round" stroke-linecap="round"  points="583.3,763.3 585.0,750.0 583.3,746.7 606.7,740.0 613.3,743.3"/>
<polyline fill="none" stroke="#000" stroke-width="1.1" stroke-linejoin="round" stroke-linecap="round"  points="646.7,775.0 640.0,790.0 653.3,806.7 658.3,831.7 656.7,841.7 646.7,845.0 648.3,856.7 636.7,870.0 630.0,883.3 620.0,900.0 615.0,913.3 603.3,915.0 601.7,941.7"/>
<polyline fill="none" stroke="#000" stroke-width="1.1" stroke-linejoin="round" stroke-linecap="round"  points="646.7,775.0 648.3,763.3 650.0,733.3 663.3,723.3 673.3,706.7 675.0,683.3 690.0,673.3 710.0,668.3 730.0,668.3 746.7,661.7 763.3,666.7 783.3,673.3 800.0,683.3 813.3,703.3 823.3,708.3 836.7,701.7 853.3,693.3 866.7,690.0 883.3,693.3 900.0,703.3 913.3,711.7 930.0,716.7 946.7,718.3 960.0,716.7 973.3,705.0 986.7,695.0 1012.7,690.0"/>
<polyline fill="none" stroke="#0000ff" stroke-width="2.3" stroke-linejoin="round" stroke-linecap="round"  points="530.0,643.3 536.7,646.7 540.0,660.0 550.0,670.0 566.7,680.0 580.0,690.0 585.0,710.0 590.0,725.0 596.7,731.7 606.7,738.3 620.0,750.0 633.3,763.3 646.7,775.0 663.3,783.3 676.7,791.7 686.7,801.7 696.7,805.0 705.0,816.7 703.3,828.3 696.7,836.7 695.0,850.0 700.0,866.7 701.7,883.3 700.0,895.0 708.3,905.0 720.0,906.7 733.3,916.7 750.0,921.7 761.7,928.3 776.7,928.3 790.0,931.7 795.0,941.7"/>
<polyline fill="none" stroke="#0000ff" stroke-width="2.3" stroke-linejoin="round" stroke-linecap="round"  points="678.3,786.7 676.7,776.7 671.7,760.0 667.3,743.3 670.0,733.3 680.0,726.7 693.3,716.7 706.7,706.7 720.0,706.7 733.3,704.0 746.7,703.3 760.0,715.0 766.7,723.3 776.7,726.7 786.7,736.7 796.7,743.3 806.7,751.7 815.0,763.3 823.3,775.0 835.0,781.7"/>
<polyline fill="none" stroke="#0000ff" stroke-width="2.3" stroke-linejoin="round" stroke-linecap="round"  points="820.0,786.7 816.7,796.7 806.7,806.7 793.3,811.7 783.3,815.0 778.3,826.7 776.7,846.7 773.3,866.7 768.3,883.3 766.7,903.3 763.3,920.0 765.0,926.7"/>
<polyline fill="none" stroke="#0000ff" stroke-width="2.3" stroke-linejoin="round" stroke-linecap="round"  points="591.7,858.3 585.0,873.3 580.0,893.3 576.7,913.3 575.0,941.7"/>
<polyline fill="none" stroke="#0000ff" stroke-width="2.3" stroke-linejoin="round" stroke-linecap="round"  points="641.7,928.3 655.0,941.7"/>
<polyline fill="none" stroke="#0000ff" stroke-width="2.3" stroke-linejoin="round" stroke-linecap="round"  points="850.0,783.3 863.3,781.7 880.0,775.0 896.7,766.0 910.0,773.3 923.3,770.0 925.0,758.3 946.7,750.0 965.0,743.3"/>
<polyline fill="none" stroke="#0000ff" stroke-width="2.3" stroke-linejoin="round" stroke-linecap="round"  points="965.0,806.7 960.0,823.3 946.7,840.0 935.0,846.7 925.0,863.3"/>
<polyline fill="none" stroke="#0000ff" stroke-width="2.3" stroke-linejoin="round" stroke-linecap="round"  points="965.0,868.3 956.7,869.3 935.0,876.7"/>
<polyline fill="none" stroke="#0000ff" stroke-width="2.3" stroke-linejoin="round" stroke-linecap="round"  points="990.0,941.7 996.7,935.0 1012.7,933.3"/>
<polyline fill="none" stroke="#0000ff" stroke-width="2.3" stroke-linejoin="round" stroke-linecap="round"  points="965.0,743.3 978.3,736.7 995.0,730.0 1015.0,720.0 1031.7,716.7 1051.7,716.7 1068.3,713.3 1081.7,708.3 1095.0,701.7 1111.7,703.3 1121.7,693.3 1131.7,683.3 1148.3,680.0 1155.0,671.7 1165.0,673.3 1181.7,683.3 1195.0,693.3 1205.0,698.3"/>
<polyline fill="none" stroke="#0000ff" stroke-width="2.3" stroke-linejoin="round" stroke-linecap="round"  points="1018.3,721.7 1008.3,730.0 998.3,746.7 988.3,763.3 978.3,778.3 976.7,793.3 965.0,806.7"/>
<polyline fill="none" stroke="#0000ff" stroke-width="2.3" stroke-linejoin="round" stroke-linecap="round"  points="1215.0,710.0 1218.3,720.0 1228.3,726.7 1235.0,736.7 1236.7,750.0 1243.3,756.7 1248.3,763.3 1256.7,766.7 1258.3,780.0 1261.7,796.7 1268.3,810.0 1281.7,821.7 1298.3,826.7 1315.0,835.0 1328.3,840.0 1346.0,834.0"/>
<polyline fill="none" stroke="#0000ff" stroke-width="2.3" stroke-linejoin="round" stroke-linecap="round"  points="1243.3,756.7 1246.7,770.0 1245.0,783.3 1243.3,803.3 1246.7,823.3 1251.7,836.7 1265.0,851.7 1276.7,863.3 1285.0,876.7 1298.3,886.7 1308.3,893.3 1318.3,910.0 1325.0,920.0 1318.3,930.0 1305.0,936.7 1295.0,941.7"/>
<polyline fill="none" stroke="#0000ff" stroke-width="2.3" stroke-linejoin="round" stroke-linecap="round"  points="1198.3,740.7 1218.3,746.7 1231.7,753.3 1243.3,757.3"/>
<polyline fill="none" stroke="#0000ff" stroke-width="2.3" stroke-linejoin="round" stroke-linecap="round"  points="965.0,870.0 978.3,863.3 991.7,850.0 1001.7,843.3 1008.3,826.7 1021.7,813.3 1038.3,806.7 1051.7,806.7 1060.0,816.7 1061.7,830.0 1058.3,843.3 1065.0,850.0 1075.0,853.3 1083.3,863.3 1086.7,880.0 1088.3,890.0"/>
<polyline fill="none" stroke="#0000ff" stroke-width="2.3" stroke-linejoin="round" stroke-linecap="round"  points="991.7,941.7 998.3,935.0 1011.7,933.3 1025.0,926.7 1035.0,913.3 1048.3,903.3 1065.0,893.3 1078.3,890.0 1095.0,890.0 1105.0,896.7 1111.7,903.3 1125.0,896.7 1131.7,898.3 1145.0,906.7 1155.0,903.3 1163.3,899.3 1171.7,910.0 1181.7,920.0 1188.3,928.3 1186.7,941.7"/>
<path d="M145.8 134.9V942.6M302.4 134.9V942.6M459.0 134.9V942.6M615.6 134.9V942.6M772.3 134.9V942.6M928.9 134.9V942.6M1085.5 134.9V942.6M1242.1 134.9V942.6M100.3 863.9H1346.0M100.3 759.7H1346.0M100.3 655.5H1346.0M100.3 551.3H1346.0M100.3 447.1H1346.0M100.3 342.9H1346.0M100.3 238.7H1346.0" stroke="#8a8a8a" stroke-opacity="0.6" stroke-width="1.67" stroke-dasharray="6.17 2.67" fill="none"/>
</g>
<rect x="100.3" y="134.9" width="1245.7" height="807.7" fill="none" stroke="#000" stroke-width="1.7"/>
<text x="644.3" y="36.9" font-size="29.0" text-anchor="start" textLength="111.6" lengthAdjust="spacingAndGlyphs" font-weight="bold">SLAPIS</text>
<text x="112.5" y="123.1" font-size="21.2" text-anchor="start" textLength="354.5" lengthAdjust="spacingAndGlyphs">VALID: MON, 06 OCT 2025 20 UTC</text>
<text x="584.1" y="123.1" font-size="21.2" text-anchor="start" textLength="277.5" lengthAdjust="spacingAndGlyphs">T= +08hr WRF-GFS-4.0km</text>
<text x="1155.9" y="123.1" font-size="21.2" text-anchor="start" textLength="177.2" lengthAdjust="spacingAndGlyphs">Init: Mon, 12 UTC</text>
<text x="37.8" y="870.2" font-size="21.2" text-anchor="start" textLength="49.2" lengthAdjust="spacingAndGlyphs">10°N</text>
<text x="37.8" y="766.0" font-size="21.2" text-anchor="start" textLength="49.2" lengthAdjust="spacingAndGlyphs">12°N</text>
<text x="37.8" y="661.8" font-size="21.2" text-anchor="start" textLength="49.2" lengthAdjust="spacingAndGlyphs">14°N</text>
<text x="37.8" y="557.6" font-size="21.2" text-anchor="start" textLength="49.2" lengthAdjust="spacingAndGlyphs">16°N</text>
<text x="37.8" y="453.4" font-size="21.2" text-anchor="start" textLength="49.2" lengthAdjust="spacingAndGlyphs">18°N</text>
<text x="37.8" y="349.2" font-size="21.2" text-anchor="start" textLength="49.2" lengthAdjust="spacingAndGlyphs">20°N</text>
<text x="37.8" y="245.0" font-size="21.2" text-anchor="start" textLength="49.2" lengthAdjust="spacingAndGlyphs">22°N</text>
<text x="125.6" y="969.8" font-size="21.2" text-anchor="start" textLength="40.5" lengthAdjust="spacingAndGlyphs">6°W</text>
<text x="282.2" y="969.8" font-size="21.2" text-anchor="start" textLength="40.5" lengthAdjust="spacingAndGlyphs">3°W</text>
<text x="447.8" y="969.8" font-size="21.2" text-anchor="start" textLength="22.5" lengthAdjust="spacingAndGlyphs">0°</text>
<text x="598.1" y="969.8" font-size="21.2" text-anchor="start" textLength="35.0" lengthAdjust="spacingAndGlyphs">3°E</text>
<text x="754.8" y="969.8" font-size="21.2" text-anchor="start" textLength="35.0" lengthAdjust="spacingAndGlyphs">6°E</text>
<text x="911.4" y="969.8" font-size="21.2" text-anchor="start" textLength="35.0" lengthAdjust="spacingAndGlyphs">9°E</text>
<text x="1062.3" y="969.8" font-size="21.2" text-anchor="start" textLength="46.3" lengthAdjust="spacingAndGlyphs">12°E</text>
<text x="1219.0" y="969.8" font-size="21.2" text-anchor="start" textLength="46.3" lengthAdjust="spacingAndGlyphs">15°E</text>
<rect x="24.80" y="1115.8" width="56.10" height="69.7" fill="#000080"/>
<rect x="80.60" y="1115.8" width="56.10" height="69.7" fill="#0000c8"/>
<rect x="136.41" y="1115.8" width="56.10" height="69.7" fill="#1864d2"/>
<rect x="192.21" y="1115.8" width="56.10" height="69.7" fill="#2882f0"/>
<rect x="248.02" y="1115.8" width="56.10" height="69.7" fill="#50a5f5"/>
<rect x="303.82" y="1115.8" width="56.10" height="69.7" fill="#78b9fa"/>
<rect x="359.62" y="1115.8" width="56.10" height="69.7" fill="#96d2fa"/>
<rect x="415.43" y="1115.8" width="56.10" height="69.7" fill="#b4f0fa"/>
<rect x="471.23" y="1115.8" width="56.10" height="69.7" fill="#befab4"/>
<rect x="527.04" y="1115.8" width="56.10" height="69.7" fill="#00d278"/>
<rect x="582.84" y="1115.8" width="56.10" height="69.7" fill="#00aa00"/>
<rect x="638.64" y="1115.8" width="56.10" height="69.7" fill="#7dcd00"/>
<rect x="694.45" y="1115.8" width="56.10" height="69.7" fill="#cde600"/>
<rect x="750.25" y="1115.8" width="56.10" height="69.7" fill="#ffff28"/>
<rect x="806.06" y="1115.8" width="56.10" height="69.7" fill="#ffd200"/>
<rect x="861.86" y="1115.8" width="56.10" height="69.7" fill="#ffa000"/>
<rect x="917.66" y="1115.8" width="56.10" height="69.7" fill="#ff0000"/>
<rect x="973.47" y="1115.8" width="56.10" height="69.7" fill="#d20000"/>
<rect x="1029.27" y="1115.8" width="56.10" height="69.7" fill="#a00000"/>
<rect x="1085.08" y="1115.8" width="56.10" height="69.7" fill="#820000"/>
<rect x="1140.88" y="1115.8" width="56.10" height="69.7" fill="#640000"/>
<rect x="1196.68" y="1115.8" width="56.10" height="69.7" fill="#ff80ff"/>
<rect x="1252.49" y="1115.8" width="56.10" height="69.7" fill="#ff00ff"/>
<rect x="1308.29" y="1115.8" width="56.10" height="69.7" fill="#9b009b"/>
<rect x="1364.10" y="1115.8" width="56.10" height="69.7" fill="#8764ff"/>
<rect x="24.8" y="1115.8" width="1395.1" height="69.7" fill="none" stroke="#000" stroke-width="1.7"/>
<path d="M24.8 1185.5V1193.1M80.6 1185.5V1193.1M136.4 1185.5V1193.1M192.2 1185.5V1193.1M248.0 1185.5V1193.1M303.8 1185.5V1193.1M359.6 1185.5V1193.1M415.4 1185.5V1193.1M471.2 1185.5V1193.1M527.0 1185.5V1193.1M582.8 1185.5V1193.1M638.6 1185.5V1193.1M694.4 1185.5V1193.1M750.3 1185.5V1193.1M806.1 1185.5V1193.1M861.9 1185.5V1193.1M917.7 1185.5V1193.1M973.5 1185.5V1193.1M1029.3 1185.5V1193.1M1085.1 1185.5V1193.1M1140.9 1185.5V1193.1M1196.7 1185.5V1193.1M1252.5 1185.5V1193.1M1308.3 1185.5V1193.1M1364.1 1185.5V1193.1M1419.9 1185.5V1193.1" stroke="#000" stroke-width="1.7" fill="none"/>
<text x="15.3" y="1216.8" font-size="21.2" text-anchor="start" textLength="19.0" lengthAdjust="spacingAndGlyphs">-4</text>
<text x="71.1" y="1216.8" font-size="21.2" text-anchor="start" textLength="19.0" lengthAdjust="spacingAndGlyphs">-2</text>
<text x="130.8" y="1216.8" font-size="21.2" text-anchor="start" textLength="11.2" lengthAdjust="spacingAndGlyphs">0</text>
<text x="186.6" y="1216.8" font-size="21.2" text-anchor="start" textLength="11.2" lengthAdjust="spacingAndGlyphs">2</text>
<text x="242.4" y="1216.8" font-size="21.2" text-anchor="start" textLength="11.2" lengthAdjust="spacingAndGlyphs">4</text>
<text x="298.2" y="1216.8" font-size="21.2" text-anchor="start" textLength="11.2" lengthAdjust="spacingAndGlyphs">6</text>
<text x="354.0" y="1216.8" font-size="21.2" text-anchor="start" textLength="11.2" lengthAdjust="spacingAndGlyphs">8</text>
<text x="403.1" y="1216.8" font-size="21.2" text-anchor="start" textLength="24.6" lengthAdjust="spacingAndGlyphs">10</text>
<text x="458.9" y="1216.8" font-size="21.2" text-anchor="start" textLength="24.6" lengthAdjust="spacingAndGlyphs">12</text>
<text x="514.7" y="1216.8" font-size="21.2" text-anchor="start" textLength="24.6" lengthAdjust="spacingAndGlyphs">14</text>
<text x="570.5" y="1216.8" font-size="21.2" text-anchor="start" textLength="24.6" lengthAdjust="spacingAndGlyphs">16</text>
<text x="626.3" y="1216.8" font-size="21.2" text-anchor="start" textLength="24.6" lengthAdjust="spacingAndGlyphs">18</text>
<text x="682.1" y="1216.8" font-size="21.2" text-anchor="start" textLength="24.6" lengthAdjust="spacingAndGlyphs">20</text>
<text x="738.0" y="1216.8" font-size="21.2" text-anchor="start" textLength="24.6" lengthAdjust="spacingAndGlyphs">22</text>
<text x="793.8" y="1216.8" font-size="21.2" text-anchor="start" textLength="24.6" lengthAdjust="spacingAndGlyphs">24</text>
<text x="849.6" y="1216.8" font-size="21.2" text-anchor="start" textLength="24.6" lengthAdjust="spacingAndGlyphs">26</text>
<text x="905.4" y="1216.8" font-size="21.2" text-anchor="start" textLength="24.6" lengthAdjust="spacingAndGlyphs">28</text>
<text x="961.2" y="1216.8" font-size="21.2" text-anchor="start" textLength="24.6" lengthAdjust="spacingAndGlyphs">30</text>
<text x="1017.0" y="1216.8" font-size="21.2" text-anchor="start" textLength="24.6" lengthAdjust="spacingAndGlyphs">32</text>
<text x="1072.8" y="1216.8" font-size="21.2" text-anchor="start" textLength="24.6" lengthAdjust="spacingAndGlyphs">34</text>
<text x="1128.6" y="1216.8" font-size="21.2" text-anchor="start" textLength="24.6" lengthAdjust="spacingAndGlyphs">36</text>
<text x="1184.4" y="1216.8" font-size="21.2" text-anchor="start" textLength="24.6" lengthAdjust="spacingAndGlyphs">38</text>
<text x="1240.2" y="1216.8" font-size="21.2" text-anchor="start" textLength="24.6" lengthAdjust="spacingAndGlyphs">40</text>
<text x="1296.0" y="1216.8" font-size="21.2" text-anchor="start" textLength="24.6" lengthAdjust="spacingAndGlyphs">42</text>
<text x="1351.8" y="1216.8" font-size="21.2" text-anchor="start" textLength="24.6" lengthAdjust="spacingAndGlyphs">44</text>
<text x="1407.6" y="1216.8" font-size="21.2" text-anchor="start" textLength="24.6" lengthAdjust="spacingAndGlyphs">46</text>
<text x="676.0" y="1244.7" font-size="21.2" text-anchor="start" textLength="93.0" lengthAdjust="spacingAndGlyphs">T2m (°C)</text>
</svg></body></html>
